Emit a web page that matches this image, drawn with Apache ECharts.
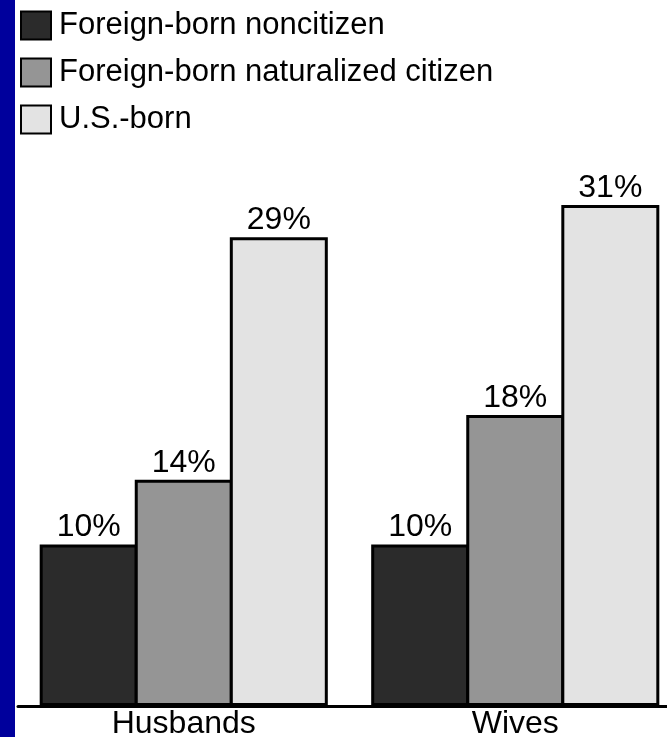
<!DOCTYPE html>
<html>
<head>
<meta charset="utf-8">
<script src="https://cdn.jsdelivr.net/npm/echarts@6/dist/echarts.min.js"></script>
<style>
html,body{margin:0;padding:0;background:#fff;}
#c{width:667px;height:737px;}
</style>
</head>
<body>
<div id="c"></div>
<script>
const categories = ['Husbands', 'Wives'];
const seriesNames = ['Foreign-born noncitizen', 'Foreign-born naturalized citizen', 'U.S.-born'];
const noncitizen = [10, 10];
const naturalized = [14, 18];
const usBorn = [29, 31];
const seriesValues = [noncitizen, naturalized, usBorn];
const colors = ['#2b2b2b', '#959595', '#e3e3e3'];

const chart = echarts.init(document.getElementById('c'), null, {renderer: 'canvas'});
const font = 'Arial, "Liberation Sans", Helvetica, sans-serif';

chart.setOption({
  animation: false,
  backgroundColor: '#ffffff',
  graphic: [{
    type: 'rect',
    left: 0, top: 0,
    shape: {width: 15, height: 737},
    style: {fill: '#00009c'},
    z: 100
  }],
  legend: {
    orient: 'vertical',
    left: 20,
    top: 10,
    padding: 0,
    itemWidth: 30,
    itemHeight: 28,
    itemGap: 16,
    icon: 'rect',
    itemStyle: {borderWidth: 2, borderColor: '#000'},
    textStyle: {fontFamily: font, fontSize: 31, color: '#000', padding: [0, 0, 0, 3]},
    data: seriesNames
  },
  grid: {left: 18, width: 663, top: 205, bottom: 31, containLabel: false, outerBoundsMode: 'none'},
  xAxis: {
    type: 'category',
    data: categories,
    axisLine: {show: true, lineStyle: {color: '#000', width: 3}},
    axisTick: {show: false},
    axisLabel: {fontFamily: font, fontSize: 32, color: '#000', margin: 2}
  },
  yAxis: {
    type: 'value',
    min: 0, max: 31,
    show: false,
    splitLine: {show: false}
  },
  series: seriesValues.map((vals, i) => ({
    name: seriesNames[i],
    type: 'bar',
    data: vals,
    barWidth: 98,
    barGap: '-3%',
    itemStyle: {color: colors[i], borderColor: '#000', borderWidth: 3},
    label: {
      show: true,
      position: 'top',
      distance: 1,
      formatter: '{c}%',
      fontFamily: font,
      fontSize: 32,
      color: '#000'
    }
  }))
});
</script>
</body>
</html>
